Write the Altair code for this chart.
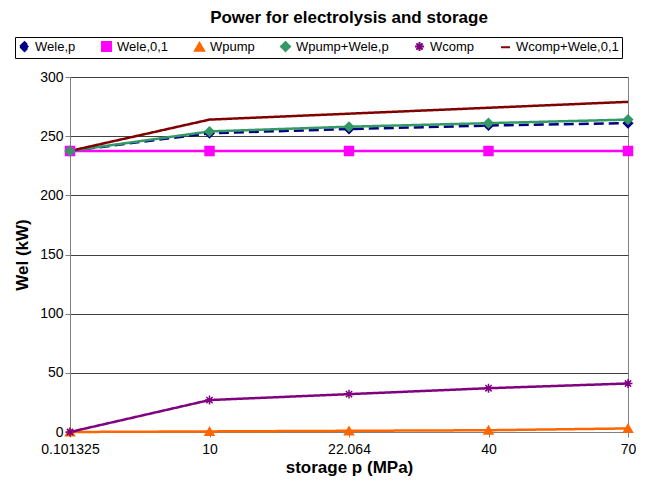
import altair as alt
import pandas as pd

pressures = ["0.101325", "10", "22.064", "40", "70"]
series_names = ["Wele,p", "Wele,0,1", "Wpump", "Wpump+Wele,p", "Wcomp", "Wcomp+Wele,0,1"]
wele_p = [237.5, 252.5, 256, 259, 261]
wele_01 = [237.5, 237.5, 237.5, 237.5, 237.5]
wpump = [0, 0.5, 1, 1.5, 3]
wpump_wele_p = [237.5, 254, 258, 261, 264]
wcomp = [0, 27, 32, 37, 41]
wcomp_wele_01 = [237.5, 264, 269, 274, 279]

colors = ["#000080", "#FF00FF", "#FF6600", "#339966", "#800080", "#800000"]
asterisk = "M-1,0L1,0M0,-1L0,1M-0.7,-0.7L0.7,0.7M-0.7,0.7L0.7,-0.7"
shapes = ["diamond", "square", "triangle-up", "diamond", asterisk, "stroke"]
dashes = [[10, 5], [1, 0], [1, 0], [1, 0], [1, 0], [1, 0]]

values = [wele_p, wele_01, wpump, wpump_wele_p, wcomp, wcomp_wele_01]
rows = []
for name, vals in zip(series_names, values):
    for p, v in zip(pressures, vals):
        rows.append({"p": p, "series": name, "W": v})
df = pd.DataFrame(rows)

font = "Liberation Sans"
x = alt.X("p:N", sort=pressures, scale=alt.Scale(padding=0),
          axis=alt.Axis(title="storage p (MPa)", labelAngle=0, grid=False,
                        titleFontSize=17, titleFontWeight="bold", labelFontSize=14,
                        domainColor="#808080", tickColor="#808080", labelColor="black",
                        titleColor="black", titlePadding=3, labelPadding=5))
y = alt.Y("W:Q", scale=alt.Scale(domain=[0, 300]),
          axis=alt.Axis(title="Wel (kW)", values=[0, 50, 100, 150, 200, 250, 300],
                        gridColor="#404040", gridWidth=1, titleFontSize=17,
                        titleFontWeight="bold", labelFontSize=14, domainColor="#808080",
                        tickColor="#808080", labelColor="black", titleColor="black",
                        titlePadding=8))
color = alt.Color("series:N", sort=series_names,
                  scale=alt.Scale(domain=series_names, range=colors),
                  legend=alt.Legend(title=None, orient="none", legendX=-55, legendY=-40,
                                    direction="horizontal",
                                    columns=6, labelFontSize=13, symbolSize=80,
                                    strokeColor="black", padding=3, columnPadding=22,
                                    symbolStrokeWidth=2, symbolOpacity=1,
                                    labelColor="black"))
shape = alt.Shape("series:N", sort=series_names,
                  scale=alt.Scale(domain=series_names, range=shapes))

lines = alt.Chart(df).mark_line(strokeWidth=2.5).encode(
    x=x, y=y, color=color,
    strokeDash=alt.StrokeDash("series:N", scale=alt.Scale(domain=series_names, range=dashes), legend=None),
)
points = alt.Chart(df).transform_filter(
    alt.datum.series != "Wcomp+Wele,0,1"
).mark_point(filled=True, size=80, strokeWidth=1.5, opacity=1).encode(
    x=x, y=y, color=color, shape=shape,
    stroke=alt.Stroke("series:N", scale=alt.Scale(domain=series_names, range=colors), legend=None),
)

chart = alt.layer(lines, points).properties(
    width=558, height=355,
    padding={"top": 0, "left": 5, "right": 0, "bottom": 5},
    title=alt.Title("Power for electrolysis and storage", fontSize=17, fontWeight="bold",
                    color="black", offset=10),
).configure(font=font).configure_view(stroke="#808080")

chart.save("out.html", embed_options={"renderer": "svg", "actions": False})
